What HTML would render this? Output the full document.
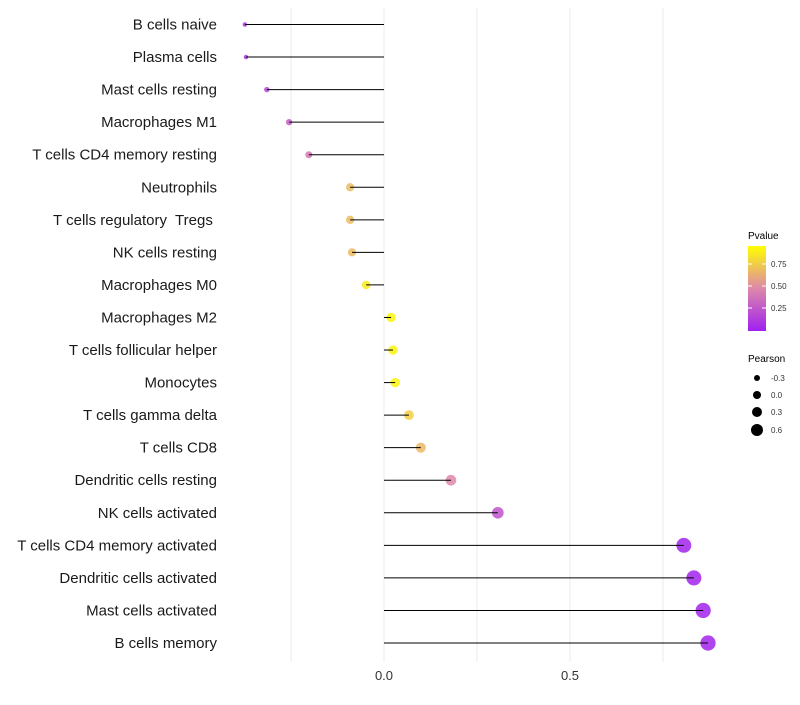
<!DOCTYPE html>
<html><head><meta charset="utf-8"><style>
body{margin:0;background:#fff;font-family:"Liberation Sans",sans-serif}
text{white-space:pre}
</style></head><body>
<svg id="chart" width="800" height="700">
<defs><linearGradient id="pg" x1="0" y1="1" x2="0" y2="0">
<stop offset="0" stop-color="#a020f0"/><stop offset="0.5" stop-color="#dd88aa"/><stop offset="1" stop-color="#ffff00"/>
</linearGradient></defs>
<g id="grid"></g><g id="marks"></g><g id="labels"></g>
<g font-size="10">
<text x="748" y="239" fill="#000">Pvalue</text>
<rect x="748" y="246" width="18" height="85" fill="url(#pg)"/>
<line x1="748" y1="264" x2="752" y2="264" stroke="#fff"/><line x1="762" y1="264" x2="766" y2="264" stroke="#fff"/>
<line x1="748" y1="286" x2="752" y2="286" stroke="#fff"/><line x1="762" y1="286" x2="766" y2="286" stroke="#fff"/>
<line x1="748" y1="308" x2="752" y2="308" stroke="#fff"/><line x1="762" y1="308" x2="766" y2="308" stroke="#fff"/>
<text x="771" y="267" font-size="8" fill="#333">0.75</text>
<text x="771" y="289" font-size="8" fill="#333">0.50</text>
<text x="771" y="311" font-size="8" fill="#333">0.25</text>
</g>
<g>
<text x="748" y="362" font-size="10" fill="#000">Pearson</text>
<circle cx="757" cy="378" r="3" fill="#000"/><text x="771" y="381" font-size="8" fill="#333">-0.3</text>
<circle cx="757" cy="395" r="4" fill="#000"/><text x="771" y="398" font-size="8" fill="#333">0.0</text>
<circle cx="757" cy="412" r="5" fill="#000"/><text x="771" y="415" font-size="8" fill="#333">0.3</text>
<circle cx="757" cy="430" r="6" fill="#000"/><text x="771" y="433" font-size="8" fill="#333">0.6</text>
</g>
</svg>
<script>
const cells=["B cells naive","Plasma cells","Mast cells resting","Macrophages M1","T cells CD4 memory resting","Neutrophils","T cells regulatory  Tregs ","NK cells resting","Macrophages M0","Macrophages M2","T cells follicular helper","Monocytes","T cells gamma delta","T cells CD8","Dendritic cells resting","NK cells activated","T cells CD4 memory activated","Dendritic cells activated","Mast cells activated","B cells memory"];
const pearson=[-0.374,-0.371,-0.315,-0.255,-0.202,-0.091,-0.091,-0.086,-0.048,0.019,0.024,0.030,0.067,0.099,0.180,0.306,0.806,0.833,0.858,0.871];
const pvalue=[0.08,0.08,0.18,0.3,0.42,0.72,0.72,0.72,0.92,0.96,0.96,0.96,0.8,0.7,0.5,0.25,0.02,0.02,0.02,0.02];
const xTicks=[0,0.5];
const grids=[-0.25,0,0.25,0.5,0.75];
const NS="http://www.w3.org/2000/svg";
const x=v=>384+v*372;
const y=i=>24.5+i*(643-24.5)/19;
const rad=v=>Math.sqrt(Math.max(1,21+43*v));
function mix(a,b,t){return a.map((c,k)=>Math.round(c+(b[k]-c)*t));}
function col(p){const s=[[160,32,240],[221,136,170],[255,255,0]];const c=p<0.5?mix(s[0],s[1],p/0.5):mix(s[1],s[2],(p-0.5)/0.5);return `rgb(${c.join(',')})`;}
function mk(t,a,parent){const e=document.createElementNS(NS,t);for(const k in a)e.setAttribute(k,a[k]);document.getElementById(parent).appendChild(e);return e;}
grids.forEach(g=>{const l=mk('line',{x1:x(g),x2:x(g),y1:8,y2:662,stroke:'#ebebeb','stroke-width':1},'grid');

});
xTicks.forEach(t=>{const e=mk('text',{x:x(t),y:680,'text-anchor':'middle','font-size':13,fill:'#333'},'labels');e.textContent=t.toFixed(1);

});
cells.forEach((c,i)=>{
const pt=mk('circle',{cx:x(pearson[i]),cy:y(i),r:rad(pearson[i]),fill:col(pvalue[i]),'fill-opacity':0.85},'marks');


const ln=mk('line',{x1:x(0),x2:x(pearson[i]),y1:y(i),y2:y(i),stroke:'#000','stroke-width':1},'marks');


const t=mk('text',{x:217,y:y(i)+5,'text-anchor':'end','font-size':15,fill:'#1a1a1a'},'labels');t.textContent=c;


});
</script>
</body></html>
